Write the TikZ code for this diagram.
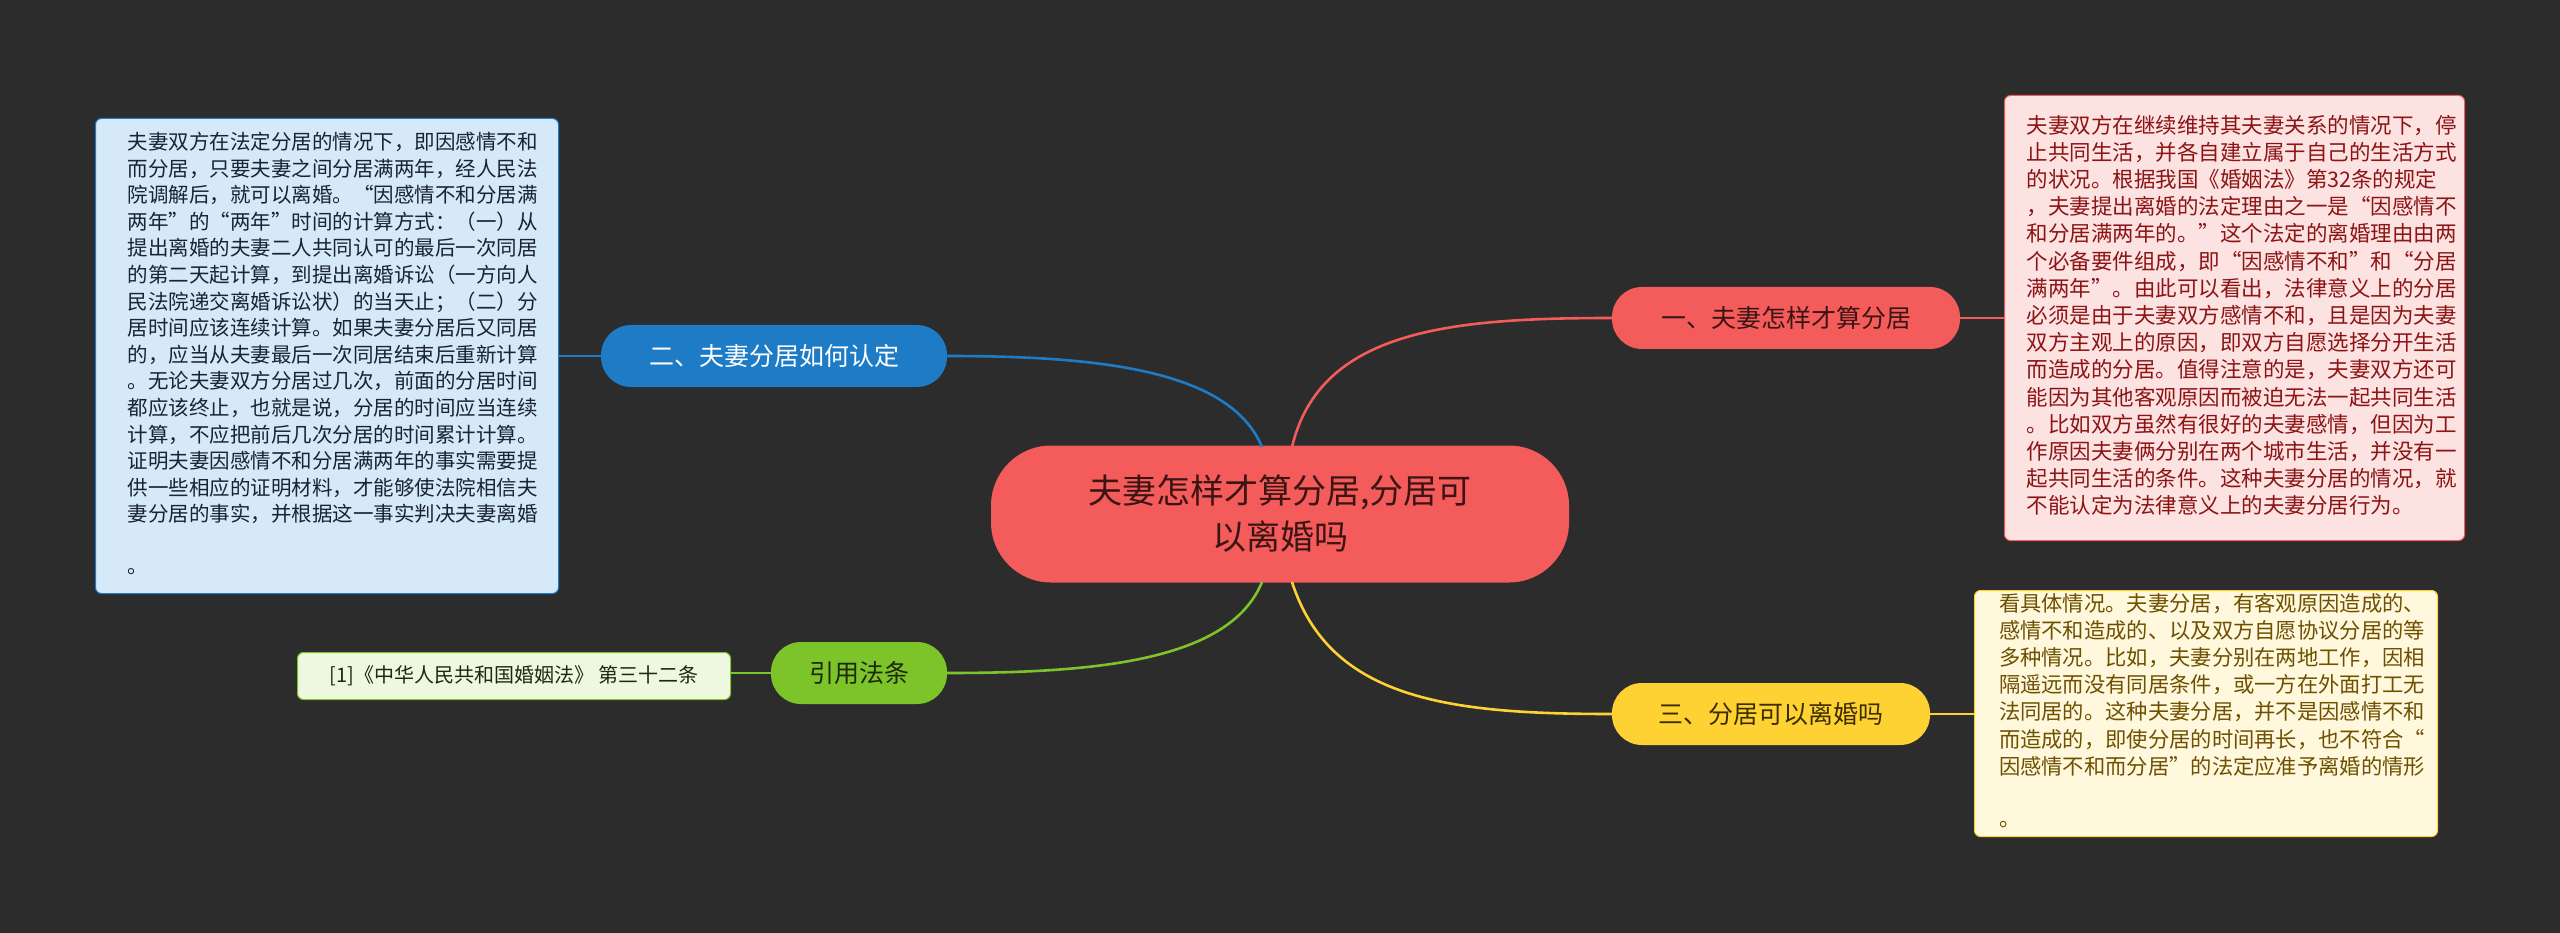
\documentclass[tikz,border=0pt]{standalone}
\usepackage{fontspec}
\setmainfont{Noto Sans CJK SC}
\begin{document}
\begin{tikzpicture}[x=1pt,y=-1pt,
  box/.style={draw=#1,line width=1pt,rounded corners=6pt,align=left,inner sep=0pt,anchor=north west},
  br/.style={rounded corners=30pt,minimum height=62pt,inner xsep=20pt,font=\fontsize{25}{30}\selectfont},
  con/.style={line width=2.6pt}]
\fill[fill={rgb,255:red,44;green,44;blue,44}] (0,0) rectangle (2560,933);
\useasboundingbox (0,0) rectangle (2560,933);
\definecolor{cred}{HTML}{F45B5B}
\definecolor{cblue}{HTML}{1E7CC6}
\definecolor{cgreen}{HTML}{7DC42A}
\definecolor{cyel}{HTML}{FFD233}
% center
\node[fill=cred,rounded corners=60pt,minimum width=578pt,minimum height=137pt,align=center,text={rgb,255:red,60;green,20;blue,20},font=\fontsize{34}{46}\selectfont] (c) at (1280,514) {夫妻怎样才算分居,分居可\\以离婚吗};
% branches
\node[br,fill=cred,minimum width=348pt,text={rgb,255:red,60;green,20;blue,20}] (b1) at (1786,318) {一、夫妻怎样才算分居};
\node[br,fill=cblue,minimum width=346pt,text=white] (b2) at (774,356) {二、夫妻分居如何认定};
\node[br,fill=cgreen,minimum width=176pt,text={rgb,255:red,30;green,40;blue,10}] (b4) at (859,673) {引用法条};
\node[br,fill=cyel,minimum width=318pt,text={rgb,255:red,60;green,45;blue,0}] (b3) at (1771,714) {三、分居可以离婚吗};
% boxes
\node[box=cred,fill={rgb,255:red,253;green,226;blue,226},minimum width=460pt,minimum height=445pt,text={rgb,255:red,140;green,20;blue,20},font=\fontsize{21.5}{27.2}\selectfont] (t1) at (2004,95) {\hspace*{14pt}\begin{tabular}{@{}l@{}}
夫妻双方在继续维持其夫妻关系的情况下，停\\
止共同生活，并各自建立属于自己的生活方式\\
的状况。根据我国《婚姻法》第32条的规定\\
，夫妻提出离婚的法定理由之一是“因感情不\\
和分居满两年的。”这个法定的离婚理由由两\\
个必备要件组成，即“因感情不和”和“分居\\
满两年”。由此可以看出，法律意义上的分居\\
必须是由于夫妻双方感情不和，且是因为夫妻\\
双方主观上的原因，即双方自愿选择分开生活\\
而造成的分居。值得注意的是，夫妻双方还可\\
能因为其他客观原因而被迫无法一起共同生活\\
。比如双方虽然有很好的夫妻感情，但因为工\\
作原因夫妻俩分别在两个城市生活，并没有一\\
起共同生活的条件。这种夫妻分居的情况，就\\
不能认定为法律意义上的夫妻分居行为。\end{tabular}};
\node[box=cblue,fill={rgb,255:red,214;green,233;blue,248},minimum width=463pt,minimum height=475pt,text={rgb,255:red,25;green,35;blue,50},font=\fontsize{20.5}{26.6}\selectfont] (t2) at (95,118) {\hspace*{11pt}\begin{tabular}{@{}l@{}}
夫妻双方在法定分居的情况下，即因感情不和\\
而分居，只要夫妻之间分居满两年，经人民法\\
院调解后，就可以离婚。“因感情不和分居满\\
两年”的“两年”时间的计算方式：（一）从\\
提出离婚的夫妻二人共同认可的最后一次同居\\
的第二天起计算，到提出离婚诉讼（一方向人\\
民法院递交离婚诉讼状）的当天止；（二）分\\
居时间应该连续计算。如果夫妻分居后又同居\\
的，应当从夫妻最后一次同居结束后重新计算\\
。无论夫妻双方分居过几次，前面的分居时间\\
都应该终止，也就是说，分居的时间应当连续\\
计算，不应把前后几次分居的时间累计计算。\\
证明夫妻因感情不和分居满两年的事实需要提\\
供一些相应的证明材料，才能够使法院相信夫\\
妻分居的事实，并根据这一事实判决夫妻离婚\\
\\[-2pt]
。\end{tabular}};
\node[box=cgreen,fill={rgb,255:red,238;green,247;blue,224},minimum width=433pt,minimum height=47pt,text={rgb,255:red,30;green,40;blue,10},font=\fontsize{20}{24}\selectfont,align=center] (t4) at (297,652) {[1]《中华人民共和国婚姻法》 第三十二条};
\node[box=cyel,fill={rgb,255:red,255;green,248;blue,220},minimum width=463pt,minimum height=246pt,text={rgb,255:red,110;green,80;blue,0},font=\fontsize{21.3}{27.2}\selectfont] (t3) at (1974,590) {\hspace*{12pt}\begin{tabular}{@{}l@{}}
看具体情况。夫妻分居，有客观原因造成的、\\
感情不和造成的、以及双方自愿协议分居的等\\
多种情况。比如，夫妻分别在两地工作，因相\\
隔遥远而没有同居条件，或一方在外面打工无\\
法同居的。这种夫妻分居，并不是因感情不和\\
而造成的，即使分居的时间再长，也不符合“\\
因感情不和而分居”的法定应准予离婚的情形\\
\\[-2pt]
。\end{tabular}};
% connectors
\coordinate (s1) at (1292,447);
\coordinate (s2) at (1262,447);
\coordinate (s3) at (1292,582);
\coordinate (s4) at (1262,582);
\draw[con,cred] (s1) .. controls (1320,330) and (1450,318) .. (b1.west);
\draw[con,cblue] (s2) .. controls (1230,370) and (1100,356) .. (b2.east);
\draw[con,cyel] (s3) .. controls (1330,700) and (1450,714) .. (b3.west);
\draw[con,cgreen] (s4) .. controls (1230,660) and (1100,673) .. (b4.east);
\draw[line width=2pt,cred] (b1.east) -- (t1.west |- b1.east);
\draw[line width=2pt,cblue] (b2.west) -- (t2.east |- b2.west);
\draw[line width=2pt,cgreen] (b4.west) -- (t4.east |- b4.west);
\draw[line width=2pt,cyel] (b3.east) -- (t3.west |- b3.east);
\end{tikzpicture}
\end{document}
